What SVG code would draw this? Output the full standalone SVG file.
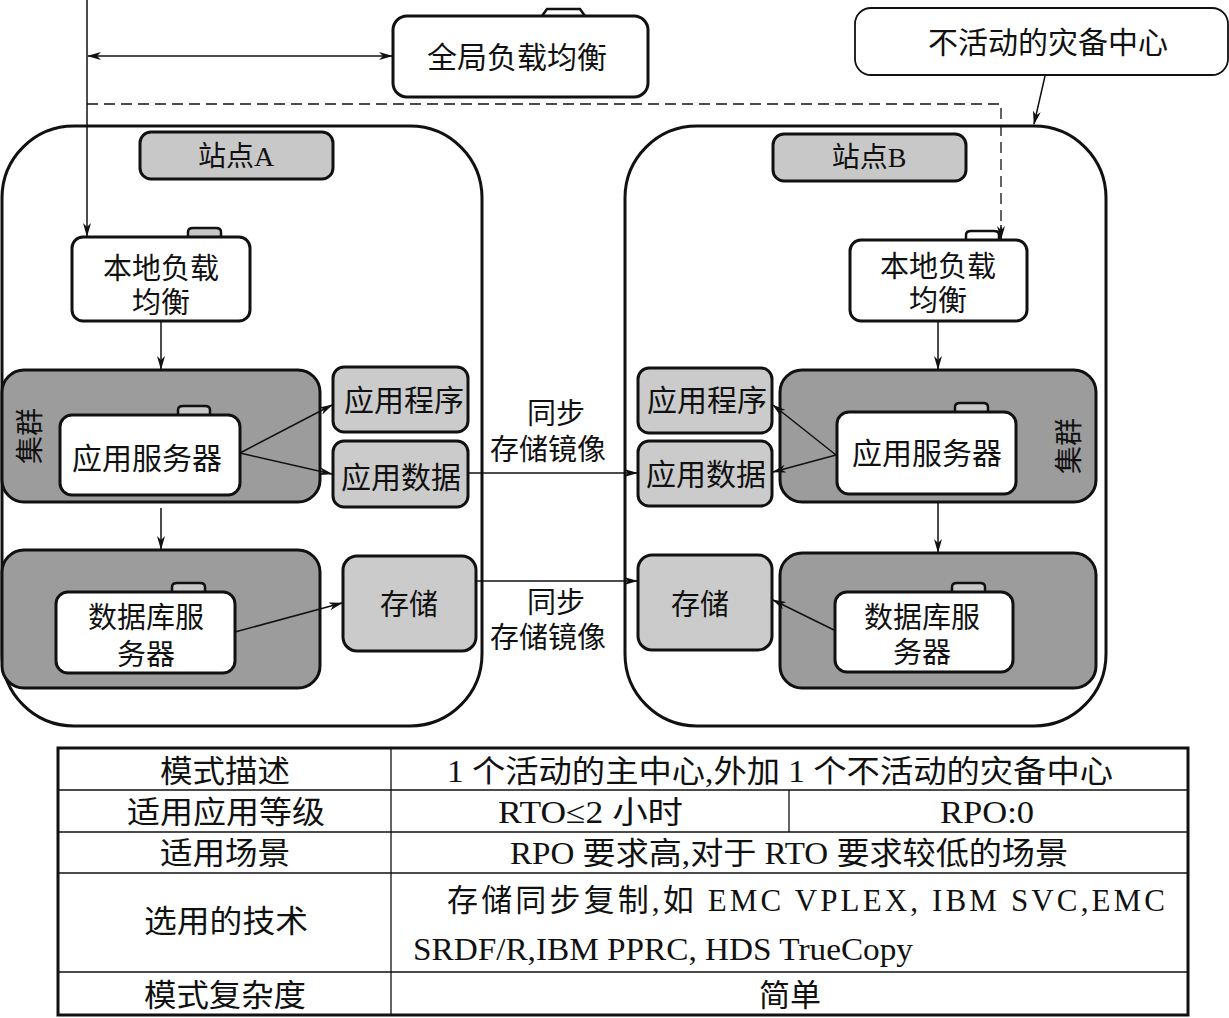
<svg xmlns="http://www.w3.org/2000/svg" width="1229" height="1018" viewBox="0 0 1229 1018">
<defs>
<style>
text{font-family:"Liberation Serif","Noto Sans CJK SC",serif;fill:#111;text-anchor:middle}
.t30{font-size:30px}.t29{font-size:29px}.t28{font-size:28px}.t31{font-size:31px}
.site{fill:#fff;stroke:#111;stroke-width:3}
.lbl{fill:#c8c8c8;stroke:#111;stroke-width:3}
.clu{fill:#9c9c9c;stroke:#111;stroke-width:3}
.box{fill:#fff;stroke:#111;stroke-width:3}
.lg{fill:#cbcbcb;stroke:#111;stroke-width:3}
.tab{fill:#c8c8c8;stroke:#111;stroke-width:2.5}
.tabw{fill:#fff;stroke:#111;stroke-width:2.5}
.c{fill:none;stroke:#111;stroke-width:1.5}
.d{fill:none;stroke:#111;stroke-width:1.3;stroke-dasharray:11 6}
.tb{fill:none;stroke:#111;stroke-width:1.3}
.s{text-anchor:start}
</style>
<marker id="a" viewBox="0 0 14 8" refX="13" refY="4" markerWidth="14" markerHeight="8" markerUnits="userSpaceOnUse" orient="auto-start-reverse">
<path d="M0,0 L14,4 L0,8 L4,4 z" fill="#111"/>
</marker>
</defs>

<!-- site containers -->
<g id="siteA"><rect class="site" x="2" y="126" width="480" height="600" rx="72"/></g>
<g id="siteB"><rect class="site" x="625" y="126" width="481" height="600" rx="72"/></g>

<g id="global-lb">
<path class="tabw" d="M542,16 L547,9 L580,9 L585,16"/>
<rect class="box" x="393" y="16" width="255" height="81" rx="14"/>
<text class="t30" x="517" y="68">全局负载均衡</text>
</g>

<g id="standby">
<rect x="855" y="8" width="373" height="67" rx="16" fill="#fff" stroke="#111" stroke-width="1.8"/>
<text class="t30" x="1048" y="53">不活动的灾备中心</text>
</g>

<g id="labelA"><rect class="lbl" x="140" y="132" width="193" height="47" rx="11"/><text class="t28" x="236" y="166">站点A</text></g>
<g id="labelB"><rect class="lbl" x="773" y="134" width="193" height="47" rx="11"/><text class="t28" x="869" y="167">站点B</text></g>

<g id="llbA">
<path class="tab" d="M188,237 L188,232 Q188,228 193,228 L216,228 Q221,228 221,232 L221,237"/>
<rect class="box" x="72" y="237" width="178" height="84" rx="11"/>
<text class="t29" x="161" y="279">本地负载</text><text class="t29" x="161" y="313">均衡</text>
</g>
<g id="llbB">
<path class="tabw" d="M966,240 L966,235 Q966,231 971,231 L994,231 Q999,231 999,235 L999,240"/>
<rect class="box" x="850" y="240" width="177" height="81" rx="11"/>
<text class="t29" x="938" y="277">本地负载</text><text class="t29" x="938" y="311">均衡</text>
</g>

<g id="clusterA-app">
<rect class="clu" x="2" y="370" width="318" height="132" rx="22"/>
<text class="t28" transform="translate(40,436) rotate(-90)">集群</text>
</g>
<g id="appsrvA">
<path class="tab" d="M178,415 L178,410 Q178,406 183,406 L205,406 Q210,406 210,410 L210,415"/>
<rect class="box" x="60" y="415" width="180" height="80" rx="12"/>
<text class="t30" x="147" y="469">应用服务器</text>
</g>
<g id="appA"><rect class="lg" x="333" y="367" width="135" height="65" rx="11"/><text class="t30" x="404" y="411">应用程序</text></g>
<g id="dataA"><rect class="lg" x="333" y="441" width="135" height="66" rx="11"/><text class="t30" x="401" y="488">应用数据</text></g>

<g id="clusterA-db"><rect class="clu" x="2" y="550" width="318" height="138" rx="22"/></g>
<g id="dbsrvA">
<path class="tab" d="M172,592 L172,587 Q172,583 177,583 L200,583 Q205,583 205,587 L205,592"/>
<rect class="box" x="56" y="592" width="179" height="81" rx="12"/>
<text class="t29" x="146" y="628">数据库服</text><text class="t29" x="146" y="665">务器</text>
</g>
<g id="storA"><rect class="lg" x="343" y="556" width="133" height="95" rx="14"/><text class="t29" x="409" y="615">存储</text></g>

<g id="clusterB-app">
<rect class="clu" x="780" y="370" width="316" height="132" rx="22"/>
<text class="t28" transform="translate(1079,446) rotate(-90)">集群</text>
</g>
<g id="appsrvB">
<path class="tab" d="M955,412 L955,407 Q955,403 960,403 L983,403 Q988,403 988,407 L988,412"/>
<rect class="box" x="837" y="412" width="179" height="82" rx="12"/>
<text class="t30" x="927" y="464">应用服务器</text>
</g>
<g id="appB"><rect class="lg" x="638" y="368" width="134" height="65" rx="11"/><text class="t30" x="707" y="411">应用程序</text></g>
<g id="dataB"><rect class="lg" x="638" y="441" width="134" height="65" rx="11"/><text class="t30" x="706" y="485">应用数据</text></g>

<g id="clusterB-db"><rect class="clu" x="780" y="553" width="316" height="135" rx="22"/></g>
<g id="dbsrvB">
<path class="tab" d="M952,592 L952,587 Q952,583 957,583 L980,583 Q985,583 985,587 L985,592"/>
<rect class="box" x="835" y="592" width="178" height="80" rx="12"/>
<text class="t29" x="922" y="628">数据库服</text><text class="t29" x="922" y="663">务器</text>
</g>
<g id="storB"><rect class="lg" x="638" y="555" width="134" height="95" rx="14"/><text class="t29" x="700" y="615">存储</text></g>

<g id="sync-labels">
<text class="t29" x="556" y="424">同步</text><text class="t29" x="548" y="460">存储镜像</text>
<text class="t29" x="556" y="613">同步</text><text class="t29" x="548" y="648">存储镜像</text>
</g>

<g id="connectors">
<path class="c" d="M87,0 L87,236" marker-end="url(#a)"/>
<path class="c" d="M88,56 L392,56" marker-start="url(#a)" marker-end="url(#a)"/>
<path class="d" d="M87,104 L1001,104 L1001,238"/>
<path class="c" d="M1001,225 L1001,239" marker-end="url(#a)"/>
<path class="c" d="M1045,76 L1034,124" marker-end="url(#a)"/>
<path class="c" d="M161,321 L161,369" marker-end="url(#a)"/>
<path class="c" d="M240,453 L332,405" marker-end="url(#a)"/>
<path class="c" d="M240,453 L332,474" marker-end="url(#a)"/>
<path class="c" d="M161,508 L161,549" marker-end="url(#a)"/>
<path class="c" d="M235,632 L342,603" marker-end="url(#a)"/>
<path class="c" d="M468,473 L637,473" marker-end="url(#a)"/>
<path class="c" d="M476,581 L637,581" marker-end="url(#a)"/>
<path class="c" d="M938,321 L938,369" marker-end="url(#a)"/>
<path class="c" d="M836,455 L773,405" marker-end="url(#a)"/>
<path class="c" d="M836,455 L773,472" marker-end="url(#a)"/>
<path class="c" d="M938,502 L938,552" marker-end="url(#a)"/>
<path class="c" d="M834,630 L773,600" marker-end="url(#a)"/>
</g>

<g id="table">
<rect x="58" y="748" width="1130" height="267" fill="#fff" stroke="#111" stroke-width="3"/>
<path class="tb" d="M58,790 H1188 M58,832 H1188 M58,873 H1188 M58,972 H1188 M391,748 V1015 M789,790 V832"/>
<text class="t31" x="225" y="782" textLength="130" lengthAdjust="spacingAndGlyphs">模式描述</text>
<text class="t31 s" x="447" y="782" textLength="666" lengthAdjust="spacingAndGlyphs">1 个活动的主中心,外加 1 个不活动的灾备中心</text>
<text class="t31" x="226" y="823" textLength="198" lengthAdjust="spacingAndGlyphs">适用应用等级</text>
<text class="t31 s" x="498" y="823" textLength="185" lengthAdjust="spacingAndGlyphs">RTO≤2 小时</text>
<text class="t31 s" x="940" y="823" textLength="94" lengthAdjust="spacingAndGlyphs">RPO:0</text>
<text class="t31" x="225" y="864" textLength="130" lengthAdjust="spacingAndGlyphs">适用场景</text>
<text class="t31 s" x="510" y="864" textLength="558" lengthAdjust="spacingAndGlyphs">RPO 要求高,对于 RTO 要求较低的场景</text>
<text class="t31" x="226" y="932" textLength="164" lengthAdjust="spacingAndGlyphs">选用的技术</text>
<text class="t31 s" x="447" y="911" textLength="718" lengthAdjust="spacing">存储同步复制,如 EMC VPLEX, IBM SVC,EMC</text>
<text class="t31 s" x="413" y="960" textLength="500" lengthAdjust="spacingAndGlyphs">SRDF/R,IBM PPRC, HDS TrueCopy</text>
<text class="t31" x="225" y="1006" textLength="162" lengthAdjust="spacingAndGlyphs">模式复杂度</text>
<text class="t31" x="790" y="1006">简单</text>
</g>
</svg>
